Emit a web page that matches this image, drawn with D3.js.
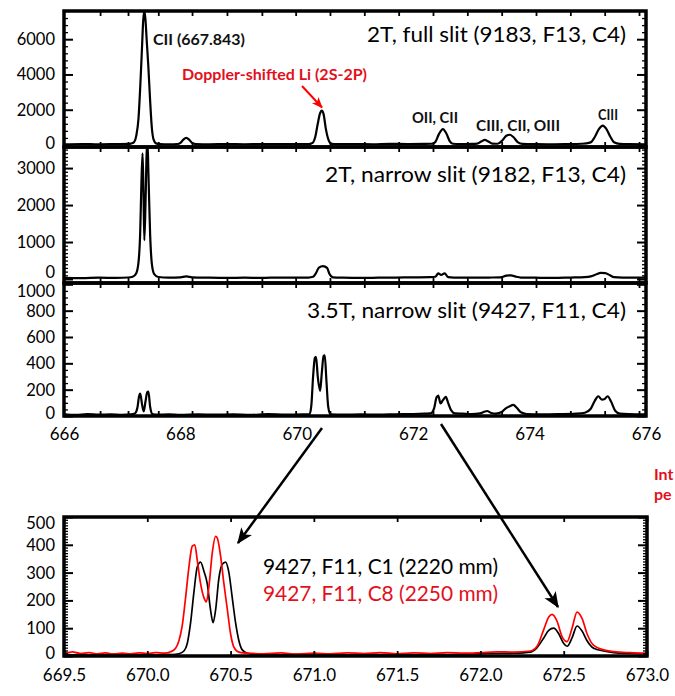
<!DOCTYPE html>
<html><head><meta charset="utf-8">
<script src="https://cdn.jsdelivr.net/npm/d3@7"></script>
<style>body{margin:0;background:#fff}svg{display:block}text{font-family:Lato,"Open Sans",sans-serif}</style>
</head><body><svg id="c" width="675" height="696"></svg>
<script>
// ---- data: [wavelength (nm), intensity] ----
const fullSlit = [[666.0,40],[666.3,55],[666.6,35],[666.9,50],[667.1,60],[667.15,80],[667.2,150],[667.24,500],[667.28,1500],[667.31,3300],[667.34,5500],[667.36,7000],[667.38,7600],[667.40,7100],[667.42,6000],[667.45,4400],[667.48,2500],[667.51,950],[667.54,300],[667.58,90],[667.65,50],[667.8,40],[667.95,55],[668.0,120],[668.05,300],[668.1,400],[668.15,300],[668.2,120],[668.27,50],[668.5,35],[668.8,50],[669.1,40],[669.4,55],[669.7,45],[670.0,50],[670.2,45],[670.27,120],[670.32,500],[670.36,1200],[670.40,1800],[670.43,1950],[670.46,1750],[670.50,900],[670.55,250],[670.60,60],[670.7,45],[671.0,50],[671.3,40],[671.6,60],[671.9,55],[672.2,60],[672.33,70],[672.38,170],[672.44,600],[672.51,900],[672.57,650],[672.63,200],[672.68,70],[672.8,50],[673.0,60],[673.1,80],[673.17,200],[673.23,290],[673.29,200],[673.36,80],[673.45,70],[673.53,250],[673.60,520],[673.66,580],[673.72,450],[673.80,150],[673.88,60],[674.0,55],[674.3,40],[674.6,50],[674.9,70],[675.05,150],[675.12,450],[675.19,900],[675.26,1100],[675.32,900],[675.39,450],[675.45,150],[675.55,60],[675.7,45],[676.0,40]];
const narrowSlit2T = [[666.0,30],[666.3,25],[666.6,35],[666.9,30],[667.1,40],[667.18,60],[667.24,150],[667.28,450],[667.31,1300],[667.33,2600],[667.35,3400],[667.365,2400],[667.38,1050],[667.40,2000],[667.42,3400],[667.435,3700],[667.45,2900],[667.48,1200],[667.51,400],[667.55,130],[667.62,55],[667.8,40],[668.0,45],[668.1,70],[668.2,45],[668.5,35],[668.8,30],[669.1,35],[669.4,30],[669.7,40],[670.0,35],[670.2,40],[670.28,60],[670.33,160],[670.38,310],[670.45,350],[670.52,300],[670.56,140],[670.62,45],[670.8,35],[671.1,30],[671.4,35],[671.7,40],[672.0,45],[672.3,50],[672.38,60],[672.43,150],[672.48,110],[672.54,155],[672.6,50],[672.7,40],[673.0,35],[673.3,40],[673.5,45],[673.6,90],[673.68,100],[673.76,65],[673.85,40],[674.1,35],[674.4,30],[674.7,40],[674.95,50],[675.05,70],[675.15,130],[675.22,165],[675.30,160],[675.38,100],[675.45,50],[675.6,40],[676.0,35]];
const narrowSlit35T = [[666.0,12],[666.2,8],[666.4,14],[666.6,10],[666.8,12],[667.0,9],[667.15,12],[667.22,20],[667.26,60],[667.29,150],[667.31,170],[667.34,90],[667.37,35],[667.40,110],[667.43,180],[667.45,185],[667.48,70],[667.52,15],[667.6,10],[667.8,12],[668.0,9],[668.3,13],[668.6,10],[668.9,12],[669.2,9],[669.5,14],[669.8,10],[670.1,12],[670.22,15],[670.25,80],[670.28,300],[670.31,440],[670.33,450],[670.36,300],[670.40,190],[670.43,330],[670.46,455],[670.48,460],[670.51,260],[670.54,70],[670.58,12],[670.8,10],[671.1,12],[671.4,10],[671.7,13],[672.0,15],[672.2,18],[672.3,20],[672.36,60],[672.40,140],[672.43,155],[672.47,95],[672.51,120],[672.56,145],[672.60,100],[672.65,45],[672.72,20],[672.85,18],[673.0,15],[673.15,20],[673.22,32],[673.27,38],[673.33,25],[673.42,18],[673.52,30],[673.58,55],[673.65,72],[673.72,85],[673.78,62],[673.85,28],[673.95,15],[674.2,12],[674.5,14],[674.8,18],[674.95,25],[675.05,55],[675.12,115],[675.18,150],[675.24,125],[675.29,130],[675.34,150],[675.40,110],[675.47,40],[675.55,18],[675.7,14],[676.0,12]];
const c1Spectrum = [[669.5,8],[669.55,4],[669.6,7],[669.65,3],[669.7,6],[669.75,4],[669.8,7],[669.85,3],[669.9,6],[669.95,4],[670.0,7],[670.05,3],[670.1,6],[670.15,5],[670.19,8],[670.22,18],[670.24,45],[670.26,120],[670.28,230],[670.30,320],[670.32,338],[670.34,305],[670.36,260],[670.38,165],[670.395,120],[670.41,165],[670.43,280],[670.45,330],[670.47,338],[670.49,300],[670.51,210],[670.53,120],[670.55,55],[670.57,22],[670.6,10],[670.65,5],[670.7,7],[670.8,4],[670.9,6],[671.0,3],[671.1,7],[671.2,4],[671.3,6],[671.4,5],[671.5,7],[671.6,4],[671.7,6],[671.8,5],[671.9,7],[672.0,8],[672.1,9],[672.2,10],[672.3,14],[672.34,30],[672.38,65],[672.41,92],[672.44,100],[672.47,80],[672.50,45],[672.52,35],[672.55,65],[672.58,108],[672.61,90],[672.64,55],[672.68,28],[672.74,18],[672.8,12],[672.9,9],[673.0,8]];
const c8Spectrum = [[669.5,18],[669.52,12],[669.55,15],[669.6,9],[669.65,12],[669.7,8],[669.75,11],[669.8,7],[669.85,10],[669.9,8],[669.95,11],[670.0,9],[670.05,12],[670.1,10],[670.14,15],[670.17,28],[670.19,55],[670.21,110],[670.23,210],[670.25,320],[670.27,395],[670.285,400],[670.30,345],[670.32,260],[670.34,210],[670.355,195],[670.37,250],[670.39,370],[670.41,430],[670.42,425],[670.44,360],[670.46,260],[670.48,170],[670.50,80],[670.52,32],[670.55,14],[670.6,10],[670.7,8],[670.8,11],[670.9,7],[671.0,10],[671.1,8],[671.2,11],[671.3,9],[671.4,12],[671.5,8],[671.6,11],[671.7,9],[671.8,12],[671.9,10],[672.0,12],[672.1,15],[672.2,14],[672.3,18],[672.34,35],[672.38,95],[672.41,140],[672.43,150],[672.46,125],[672.49,70],[672.52,52],[672.55,100],[672.58,158],[672.61,135],[672.64,80],[672.68,38],[672.74,22],[672.8,16],[672.9,12],[673.0,10]];

const mainXTicks = [666, 668, 670, 672, 674, 676];
const zoomXTicks = [669.5, 670.0, 670.5, 671.0, 671.5, 672.0, 672.5, 673.0];
const panel1YTicks = [0, 2000, 4000, 6000];
const panel2YTicks = [0, 1000, 2000, 3000];
const panel3YTicks = [0, 200, 400, 600, 800, 1000];
const zoomYTicks = [0, 100, 200, 300, 400, 500];
const panelTitles = ["2T, full slit (9183, F13, C4)", "2T, narrow slit (9182, F13, C4)", "3.5T, narrow slit (9427, F11, C4)"];
const legendLabels = ["9427, F11, C1 (2220 mm)", "9427, F11, C8 (2250 mm)"];

// ---- drawing ----
const svg = d3.select("#c");
const RED = "#ff0000", TXTRED = "#e3101c";
const defs = svg.append("defs");
function marker(id, color, s){
  defs.append("marker").attr("id", id).attr("viewBox","0 0 12 10").attr("refX",11).attr("refY",5)
    .attr("markerWidth", s).attr("markerHeight", s*0.85).attr("markerUnits","userSpaceOnUse").attr("orient","auto")
    .append("path").attr("d","M0,0 L12,5 L0,10 L3,5 Z").attr("fill", color);
}
marker("ab", "#000", 16); marker("ar", RED, 11);

const xMain = d3.scaleLinear().domain([666, 676]).range([64, 646]);
const xZoom = d3.scaleLinear().domain([669.5, 673.0]).range([64, 647]);

function panel(cfg){
  const {x, data, yDomain, top, bottom, ticks, minorStep, nudge, xMinor, xLabels, xLabelPad, lw} = cfg;
  const y = d3.scaleLinear().domain(yDomain).range([bottom, top]);
  const [x0, x1] = x.range();
  const g = svg.append("g");
  const cid = "clip" + top;
  defs.append("clipPath").attr("id", cid).append("rect").attr("x", x0).attr("y", top).attr("width", x1 - x0).attr("height", bottom - top);
  const line = d3.line().x(d => x(d[0])).y(d => y(d[1])).curve(d3.curveMonotoneX);
  (cfg.series || [{data, color:"#000"}]).forEach(s => {
    g.append("path").datum(s.data).attr("d", line).attr("fill","none").attr("stroke", s.color)
      .attr("stroke-width", lw).attr("stroke-linejoin","round").attr("clip-path", `url(#${cid})`);
  });
  const minor = d3.range(Math.ceil(yDomain[0]/minorStep)*minorStep, yDomain[1], minorStep).filter(v => !ticks.includes(v));
  [["L", x0], ["R", x1]].forEach(([side, px]) => {
    const ax = side === "L" ? d3.axisLeft(y) : d3.axisRight(y);
    g.append("g").attr("transform", `translate(${px},0)`).call(ax.tickValues(minor).tickSize(-4).tickFormat(""))
      .call(a => a.select(".domain").remove()).selectAll("line").attr("stroke-width", 1.3);
    const maj = g.append("g").attr("transform", `translate(${px},0)`)
      .call(ax.tickValues(ticks).tickSize(-9).tickPadding(9).tickFormat(side === "L" ? d3.format("d") : ""));
    maj.select(".domain").remove();
    maj.selectAll("line").attr("stroke-width", 2);
    maj.selectAll("text").attr("font-size", 16.5).attr("fill", "#000").attr("font-family", "Lato")
      .attr("dy", d => (nudge[d] || 0) + 5.5);
  });
  if (xMinor) {
    [[top, d3.axisTop], [bottom, d3.axisBottom]].forEach(([py, f]) => {
      g.append("g").attr("transform", `translate(0,${py})`).call(f(x).tickValues(xMinor).tickSize(-5).tickFormat(""))
        .call(a => a.select(".domain").remove()).selectAll("line").attr("stroke-width", 1.8);
    });
  }
  if (xLabels) {
    const ax = g.append("g").attr("transform", `translate(0,${bottom})`)
      .call(d3.axisBottom(x).tickValues(xLabels).tickSize(0).tickPadding(xLabelPad).tickFormat(cfg.fmt));
    ax.select(".domain").remove();
    ax.selectAll("text").attr("font-size", 17).attr("fill", "#000").attr("font-family", "Lato");
  }
  g.append("rect").attr("x", x0).attr("y", top).attr("width", x1 - x0).attr("height", bottom - top)
    .attr("fill", "none").attr("stroke", "#000").attr("stroke-width", 3.5);
  return y;
}

const mainMinorX = [666.62, 667.1, 667.62, 668.2, 668.8, 669.4, 669.98, 670.57, 671.16, 671.75, 672.34, 672.93, 673.52, 674.11, 674.7, 675.29, 675.88];
panel({x: xMain, data: fullSlit, yDomain: [-115, 7600], top: 11, bottom: 147, ticks: panel1YTicks, minorStep: 400, nudge: {0: -2}, xMinor: mainMinorX, lw: 2.2});
panel({x: xMain, data: narrowSlit2T, yDomain: [-108, 3570], top: 147, bottom: 283, ticks: panel2YTicks, minorStep: 100, nudge: {0: -7}, xMinor: mainMinorX, lw: 2.2});
panel({x: xMain, data: narrowSlit35T, yDomain: [0, 1010], top: 283, bottom: 416, ticks: panel3YTicks, minorStep: 50, nudge: {1000: 6.5, 0: -3}, xMinor: mainMinorX, xLabels: mainXTicks, xLabelPad: 12, fmt: d3.format("d"), lw: 2.2});
panel({x: xZoom, yDomain: [0, 500], top: 517, bottom: 656, ticks: zoomYTicks, minorStep: 10, nudge: {500: 6, 0: -3}, xMinor: zoomXTicks, xLabels: zoomXTicks, xLabelPad: 13, fmt: d3.format(".1f"), lw: 1.7,
  series: [{data: c1Spectrum, color: "#000"}, {data: c8Spectrum, color: RED}]});

const ty = [42, 182, 317.5], tw = [259, 301, 319];
panelTitles.forEach((t, i) => svg.append("text").attr("x", 626).attr("y", ty[i]).attr("text-anchor", "end")
  .attr("font-size", 21).attr("textLength", tw[i]).attr("lengthAdjust", "spacingAndGlyphs").text(t));

function ann(t, x, y, w, size, color, weight){
  svg.append("text").attr("x", x).attr("y", y).attr("font-size", size).attr("fill", color)
    .attr("font-weight", weight).attr("textLength", w).attr("lengthAdjust", "spacingAndGlyphs").text(t);
}
ann("CII (667.843)", 153, 45, 92, 16, "#111", 700);
ann("Doppler-shifted Li (2S-2P)", 182, 80, 185, 15, TXTRED, 700);
ann("OII, CII", 412, 123, 46, 15, "#111", 700);
ann("CIII, CII, OIII", 476, 131, 84, 15, "#111", 700);
ann("CIII", 598, 120, 20, 15, "#111", 700);
ann(legendLabels[0], 263, 574, 235, 20.5, "#000", 400);
ann(legendLabels[1], 263, 601, 235, 20.5, TXTRED, 400);
svg.append("text").attr("x", 654).attr("y", 480).attr("font-size", 16).attr("font-weight", 700).attr("fill", TXTRED).text("Int");
svg.append("text").attr("x", 654).attr("y", 500).attr("font-size", 16).attr("font-weight", 700).attr("fill", TXTRED).text("pe");

svg.append("line").attr("x1", 302).attr("y1", 86).attr("x2", 322).attr("y2", 107.5).attr("stroke", RED).attr("stroke-width", 2).attr("marker-end", "url(#ar)");
svg.append("line").attr("x1", 322).attr("y1", 428).attr("x2", 238).attr("y2", 543).attr("stroke", "#000").attr("stroke-width", 2.5).attr("marker-end", "url(#ab)");
svg.append("line").attr("x1", 441).attr("y1", 424).attr("x2", 558).attr("y2", 607).attr("stroke", "#000").attr("stroke-width", 2.5).attr("marker-end", "url(#ab)");
</script></body></html>
